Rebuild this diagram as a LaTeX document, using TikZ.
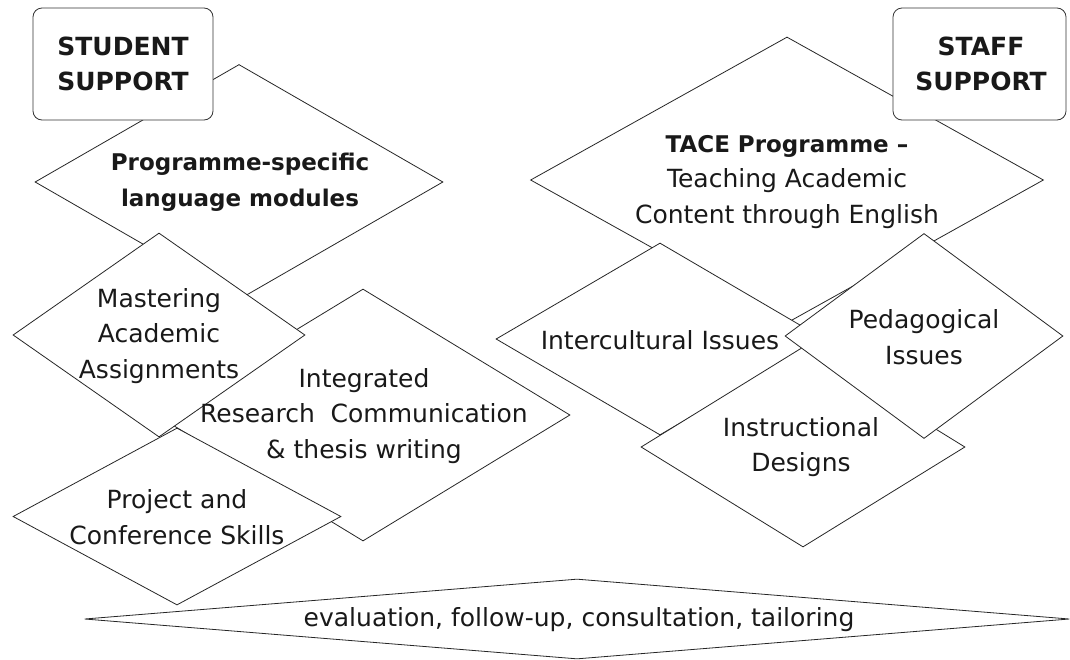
\documentclass[tikz,border=0pt]{standalone}
\usepackage{fontspec}
\setmainfont{DejaVu Sans}
\usetikzlibrary{shapes.geometric}
\tikzset{
  dia/.style={diamond, draw=black!85, fill=white, line width=0.8pt, inner sep=0pt},
  sbox/.style={rectangle, draw=black!80, rounded corners=9pt, fill=white, line width=0.8pt, inner sep=0pt},
  lbl/.style={align=center, text=black!90, inner sep=0pt, font=\fontsize{25}{35.5}\selectfont},
  blbl/.style={lbl, font=\bfseries\fontsize{23}{35.5}\selectfont},
  hlbl/.style={lbl, font=\bfseries\fontsize{25}{35}\selectfont}
}
\begin{document}
\begin{tikzpicture}[x=1pt,y=-1pt]
\useasboundingbox (0,0) rectangle (1070,659);
% left group
\node[dia, minimum width=408pt, minimum height=235pt] (prog) at (239,182) {};
\node[dia, minimum width=414pt, minimum height=252pt] (integ) at (363,415) {};
\node[dia, minimum width=292pt, minimum height=204pt] (mast) at (159,335) {};
\node[dia, minimum width=328pt, minimum height=177pt] (proj) at (177,516.5) {};
\node[sbox, minimum width=180pt, minimum height=112pt] (stud) at (123,64) {};
% right group
\node[dia, minimum width=513pt, minimum height=286pt] (tace) at (787,180) {};
\node[dia, minimum width=328pt, minimum height=192pt] (inter) at (660,339) {};
\node[dia, minimum width=324pt, minimum height=200pt] (instr) at (803,447) {};
\node[dia, minimum width=278pt, minimum height=205pt] (peda) at (924,336) {};
\node[sbox, minimum width=173pt, minimum height=112pt] (staff) at (979.5,64) {};
% bottom
\node[dia, minimum width=985pt, minimum height=80pt] (eval) at (577,619) {};
% labels
\node[hlbl] (studt) at (stud.center) {STUDENT\\SUPPORT};
\node[hlbl] (stafft) at (981,64) {STAFF\\SUPPORT};
\node[blbl] (progt) at (240,182) {Programme-specific\\language modules};
\node[lbl] (mastt) at (159,336) {Mastering\\Academic\\Assignments};
\node[lbl] (integt) at (364,416) {Integrated\\Research\ \ Communication\\\& thesis writing};
\node[lbl] (projt) at (177,517) {Project and\\Conference Skills};
\node[lbl] (tacet) at (787,182) {\textbf{\fontsize{23}{35.5}\selectfont TACE Programme –}\\Teaching Academic\\Content through English};
\node[lbl] (intert) at (660,340) {Intercultural Issues};
\node[lbl] (pedat) at (924,337) {Pedagogical\\Issues};
\node[lbl] (instrt) at (801,447) {Instructional\\Designs};
\node[lbl] (evalt) at (579,620) {evaluation, follow-up, consultation, tailoring};
\end{tikzpicture}
\end{document}
